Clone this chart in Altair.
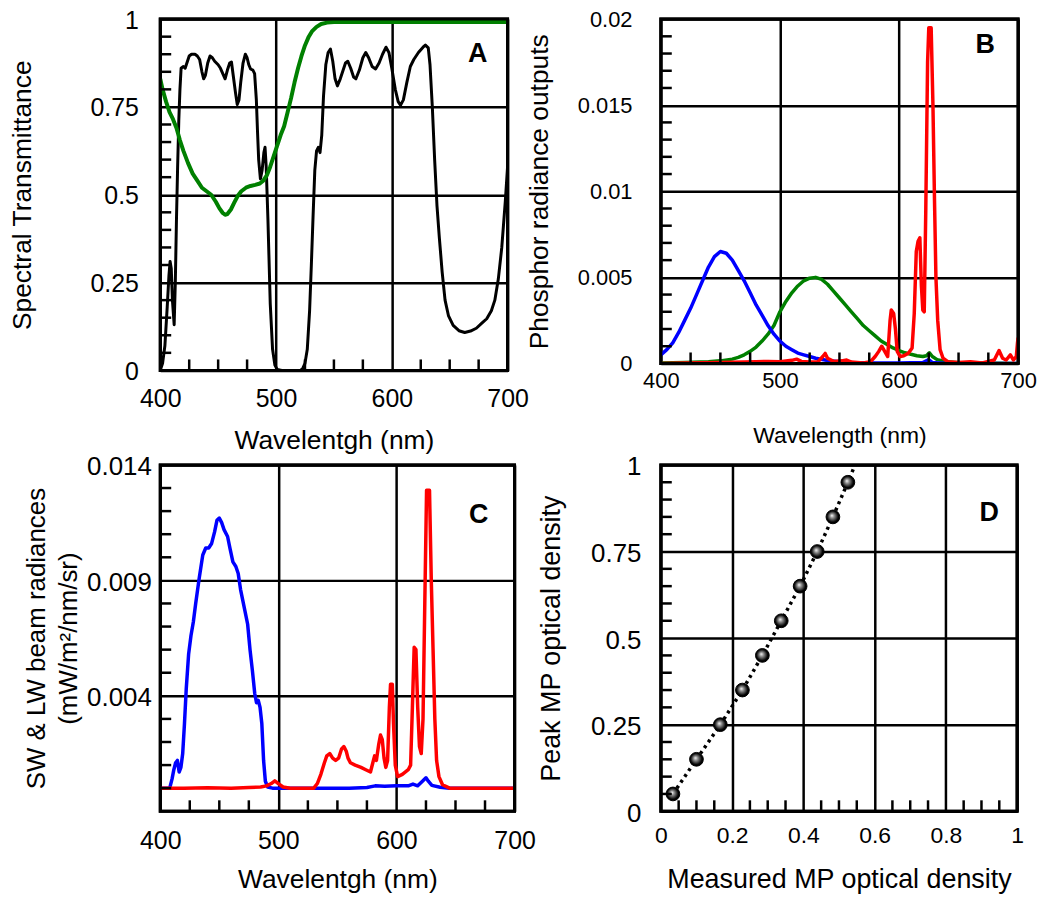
import altair as alt
import pandas as pd

FONT = "Liberation Sans, Arial, Helvetica, sans-serif"

# ---------------- Panel A : spectral transmittance ----------------
a_black_wl = [400, 402, 404, 406, 407.5, 408.5, 409.5, 410.5, 412, 413, 414, 415, 416, 417, 418, 420,
              421.5, 423, 425, 427, 430, 432, 434, 436, 437.5, 439, 441, 443, 445, 447, 450, 452, 454,
              456, 458, 460, 461.5, 463, 465, 466.5, 468, 469.5, 471.5, 473.5, 475, 476.5, 478, 480,
              481.5, 483, 484, 485, 486.5, 488, 489.5, 490.5, 491.5, 493, 495, 497, 499, 501, 505, 515,
              521, 523, 525, 527, 529, 530.5, 532, 533.5, 535, 536.5, 538, 539.5, 541, 543, 545, 547,
              549, 551, 553, 555.5, 558, 560, 562, 564.5, 567, 569, 572, 575, 577.5, 580, 583, 586, 589,
              592, 595, 597.5, 600, 603, 605.5, 607.5, 610, 613, 616, 619, 623, 627, 629, 631.5, 633,
              635, 637, 639, 641, 643.5, 646, 649, 653, 658, 663, 668, 673, 678, 682, 686, 689, 692,
              695, 698, 700]
a_black_t = [0.0, 0.02, 0.07, 0.18, 0.27, 0.31, 0.29, 0.2, 0.13, 0.25, 0.43, 0.58, 0.71, 0.8, 0.86, 0.865,
             0.86, 0.875, 0.895, 0.9, 0.9, 0.895, 0.885, 0.85, 0.83, 0.84, 0.875, 0.895, 0.89, 0.88, 0.87,
             0.86, 0.845, 0.83, 0.855, 0.875, 0.878, 0.84, 0.79, 0.757, 0.77, 0.82, 0.875, 0.9, 0.89,
             0.87, 0.858, 0.855, 0.845, 0.77, 0.68, 0.6, 0.545, 0.57, 0.62, 0.635, 0.58, 0.43, 0.19,
             0.06, 0.015, 0.003, 0.0, 0.0, 0.0, 0.005, 0.02, 0.06, 0.17, 0.3, 0.44, 0.57, 0.625, 0.635,
             0.62, 0.67, 0.78, 0.87, 0.905, 0.915, 0.88, 0.83, 0.81, 0.83, 0.855, 0.875, 0.88, 0.86,
             0.835, 0.83, 0.855, 0.89, 0.905, 0.89, 0.865, 0.858, 0.875, 0.9, 0.92, 0.905, 0.86, 0.8,
             0.765, 0.755, 0.77, 0.82, 0.865, 0.885, 0.905, 0.92, 0.926, 0.918, 0.87, 0.75, 0.6, 0.47,
             0.38, 0.28, 0.2, 0.155, 0.128, 0.113, 0.108, 0.112, 0.12, 0.135, 0.147, 0.17, 0.2, 0.26,
             0.35, 0.48, 0.58]
a_green_wl = [400, 402, 405, 408, 411, 414, 417, 420, 424, 428, 432, 436, 440, 444, 448, 451, 454, 456,
              458, 461, 464, 467, 470, 474, 478, 482, 486, 489, 492, 495, 498, 501, 504, 507, 510, 513,
              516, 519, 522, 525, 528, 531, 535, 539, 544, 550, 700]
a_green_t = [0.83, 0.8, 0.765, 0.735, 0.715, 0.69, 0.655, 0.625, 0.59, 0.56, 0.54, 0.52, 0.51, 0.5,
             0.48, 0.462, 0.448, 0.443, 0.445, 0.458, 0.478, 0.497, 0.51, 0.52, 0.525, 0.528, 0.532,
             0.54, 0.555, 0.58, 0.61, 0.64, 0.67, 0.695, 0.735, 0.775, 0.82, 0.86, 0.895, 0.925, 0.948,
             0.965, 0.978, 0.986, 0.99, 0.992, 0.992]
a_x_labels = [400, 500, 600, 700]
a_y_labels = [0, 0.25, 0.5, 0.75, 1]
a_x_minor = [425, 450, 475, 525, 550, 575, 625, 650, 675]
a_y_minor = [0.05, 0.1, 0.15, 0.2, 0.3, 0.35, 0.4, 0.45, 0.55, 0.6, 0.65, 0.7, 0.8, 0.85, 0.9, 0.95]

# ---------------- Panel B : phosphor radiance ----------------
b_blue_wl = [400, 405, 410, 415, 420, 425, 430, 435, 440, 445, 450, 455, 460, 465, 470, 475, 480, 485,
             490, 495, 500, 505, 510, 515, 520, 525, 530, 540, 550, 560, 580, 600, 620, 625, 628, 640, 700]
b_blue_v = [0.0005, 0.0008, 0.0012, 0.0018, 0.0025, 0.0032, 0.004, 0.0048, 0.0056, 0.0062, 0.0065,
            0.0064, 0.006, 0.0054, 0.0048, 0.0041, 0.0034, 0.0028, 0.0022, 0.0017, 0.0013, 0.001,
            0.0008, 0.0006, 0.0005, 0.0004, 0.0003, 0.00017, 0.0001, 0.00006, 0.00003, 0.00002,
            0.00005, 0.00022, 0.00005, 0.0, 0.0]
b_green_wl = [400, 420, 440, 450, 460, 465, 470, 475, 480, 485, 490, 495, 500, 505, 510, 515, 520, 525,
              530, 535, 540, 545, 550, 555, 560, 565, 570, 575, 580, 585, 590, 595, 600, 605, 610, 615,
              620, 623, 625.5, 628, 632, 640, 650, 700]
b_green_v = [0.00002, 0.00005, 0.0001, 0.00015, 0.00025, 0.00035, 0.0005, 0.0007, 0.00095, 0.0013,
             0.0017, 0.0022, 0.003, 0.0036, 0.0041, 0.0045, 0.0048, 0.00495, 0.005, 0.00488, 0.0046,
             0.0042, 0.0038, 0.0034, 0.003, 0.0026, 0.0022, 0.0019, 0.0016, 0.0013, 0.0011, 0.0009,
             0.00075, 0.00062, 0.00053, 0.00045, 0.0004, 0.00045, 0.00062, 0.0004, 0.00022, 0.0001,
             0.00004, 0.0]
b_red_wl = [400, 420, 450, 480, 490, 500, 510, 514, 518, 525, 532, 536, 538, 540, 545, 552, 556, 560,
            570, 576, 580, 583, 585.5, 588, 590.5, 592.5, 593.5, 595.5, 597, 598.5, 601, 604, 608, 611,
            612.8, 614.5, 616, 617.5, 618.8, 620, 621.2, 622.5, 624, 625, 627, 628.5, 629.8, 631,
            632.5, 634.5, 637, 641, 650, 660, 670, 680, 684, 687, 690, 693.5, 696, 698.5, 699.5, 700]
b_red_v = [0.0, 0.00003, 0.00005, 0.0001, 0.00012, 0.0001, 0.00018, 0.00025, 0.00012, 0.00008, 0.0001,
           0.0004, 0.00058, 0.0003, 0.00012, 0.00015, 0.0002, 0.00008, 0.00003, 0.0001, 0.0004, 0.0007,
           0.001, 0.0007, 0.0004, 0.0025, 0.0031, 0.0029, 0.002, 0.0007, 0.0004, 0.00045, 0.0006,
           0.0009, 0.0029, 0.0065, 0.0071, 0.0073, 0.0045, 0.0031, 0.003, 0.009, 0.0175, 0.0195,
           0.0195, 0.015, 0.0095, 0.005, 0.0025, 0.0008, 0.0003, 0.0001, 0.00005, 0.0001, 0.00003,
           0.0002, 0.00075, 0.0003, 0.0002, 0.0005, 0.0002, 0.0004, 0.0012, 0.0015]
b_x_labels = [400, 500, 600, 700]
b_y_labels = [0, 0.005, 0.01, 0.015, 0.02]
b_x_minor = [425, 450, 475, 525, 550, 575, 625, 650, 675]
b_y_minor = [0.001, 0.002, 0.003, 0.004, 0.006, 0.007, 0.008, 0.009, 0.011, 0.012, 0.013, 0.014,
             0.016, 0.017, 0.018, 0.019]

# ---------------- Panel C : SW & LW beam radiances ----------------
c_blue_wl = [400, 408, 410, 411.5, 413, 414.5, 416, 417.5, 419, 420.5, 422, 424, 426, 428, 430, 433,
             436, 438.5, 441, 443.5, 446, 448, 450, 452, 454, 457, 459, 461.5, 464, 466, 468, 470, 472,
             474, 476, 478, 480, 481.5, 483, 484.5, 486, 487.5, 489, 491, 495, 560, 575, 582, 590, 600,
             610, 614, 618, 622, 625, 627, 630, 637, 645, 700]
c_blue_v = [0.0, 0.0, 0.0004, 0.0008, 0.0011, 0.0012, 0.0007, 0.0009, 0.0015, 0.0028, 0.0043, 0.0058,
            0.0066, 0.0072, 0.008, 0.0091, 0.0101, 0.0104, 0.0104, 0.0106, 0.0111, 0.0116, 0.0117,
            0.0115, 0.0112, 0.0109, 0.0104, 0.0098, 0.0096, 0.0093, 0.0086, 0.0081, 0.0076, 0.0071,
            0.006, 0.0051, 0.0041, 0.0037, 0.0038, 0.0035, 0.0028, 0.0012, 0.0003, 0.00005, 0.0, 0.0,
            0.00003, 0.0001, 0.00008, 0.0001, 0.0001, 0.00018, 0.0001, 0.0003, 0.00045, 0.0003,
            0.00012, 0.00004, 0.0, 0.0]
c_red_wl = [400, 420, 440, 460, 475, 485, 490, 494, 497, 500, 504, 510, 530, 533, 536, 539, 541, 543.5,
            546, 548.5, 551, 553.5, 555.5, 557.5, 559, 561, 565, 570, 574, 578, 580, 581.5, 583, 585,
            586.5, 588, 589.5, 591, 592.5, 594, 595, 596.5, 597.5, 599, 601, 605, 610, 612, 613.5, 615,
            616.5, 618, 619.5, 621, 622.5, 624, 625.5, 628, 629.5, 631, 632.5, 634, 636, 639, 645, 700]
c_red_v = [0.0, 0.0, 0.00002, 0.0, 0.00003, 0.00005, 0.0001, 0.0002, 0.00032, 0.0002, 0.00005, 0.0,
           0.0, 0.0002, 0.0006, 0.0011, 0.0014, 0.0015, 0.0013, 0.0012, 0.0013, 0.0017, 0.0018, 0.0016,
           0.0013, 0.0011, 0.001, 0.0009, 0.0008, 0.0007, 0.0011, 0.0014, 0.0012, 0.0019, 0.0023,
           0.0021, 0.0013, 0.0009, 0.0012, 0.0035, 0.0045, 0.0045, 0.0028, 0.001, 0.0005, 0.0006,
           0.0008, 0.001, 0.0035, 0.0061, 0.006, 0.0035, 0.0018, 0.0015, 0.003, 0.008, 0.0129, 0.0129,
           0.009, 0.006, 0.003, 0.0012, 0.0005, 0.00015, 0.0, 0.0]
c_x_labels = [400, 500, 600, 700]
c_y_labels = [0.004, 0.009, 0.014]
c_x_minor = [425, 450, 475, 525, 550, 575, 625, 650, 675]
c_y_minor = [0.0, 0.001, 0.002, 0.003, 0.005, 0.006, 0.007, 0.008, 0.01, 0.011, 0.012, 0.013]

# ---------------- Panel D : optical density ----------------
d_measured = [0.034, 0.100, 0.167, 0.229, 0.285, 0.338, 0.391, 0.439, 0.483, 0.525]
d_peak = [0.05, 0.15, 0.25, 0.35, 0.45, 0.55, 0.65, 0.75, 0.85, 0.95]
d_fit_x = [0.034, 0.100, 0.167, 0.229, 0.285, 0.338, 0.391, 0.439, 0.483, 0.525, 0.545]
d_fit_y = [0.05, 0.15, 0.25, 0.35, 0.45, 0.55, 0.65, 0.75, 0.85, 0.95, 1.0]
d_x_labels = [0, 0.2, 0.4, 0.6, 0.8, 1]
d_y_labels = [0, 0.25, 0.5, 0.75, 1]
d_x_minor = [0.05, 0.1, 0.15, 0.25, 0.3, 0.35, 0.45, 0.5, 0.55, 0.65, 0.7, 0.75, 0.85, 0.9, 0.95]
d_y_minor = [0.05, 0.1, 0.15, 0.2, 0.3, 0.35, 0.4, 0.45, 0.55, 0.6, 0.65, 0.7, 0.8, 0.85, 0.9, 0.95]

TICK_PX = 11  # length of the inward minor ticks, pixels


def df(xs, ys):
    return pd.DataFrame({"x": xs, "y": ys})


def axis(values, fmt, lsize, lpad, title, tsize, **kw):
    return alt.Axis(values=values, format=fmt, grid=True, gridColor="black", gridWidth=2.5,
                    gridOpacity=1, ticks=False, tickSize=0, domain=False, labelFlush=False,
                    labelFont=FONT, labelFontSize=lsize, labelColor="black", labelPadding=lpad,
                    labelOverlap=False, title=title, titleFont=FONT, titleFontSize=tsize,
                    titleFontWeight="normal", titleColor="black",
                    titleBaseline="alphabetic", **kw)


def yaxis(values, fmt, lsize, lpad, title, tsize, **kw):
    # labels hang from a point just above each tick so that they sit centred on it
    return axis(values, fmt, lsize, lpad, title, tsize, labelBaseline="top",
                labelOffset=-round(lsize * 0.44), **kw)


def panel(w, h, xdom, ydom, xaxis, yaxis_, xminor, yminor, series, letter, lx, ly, extra=None):
    xs = alt.Scale(domain=xdom, nice=False, zero=False)
    ys = alt.Scale(domain=ydom, nice=False, zero=False)
    X = alt.X("x:Q", scale=xs, axis=xaxis)
    Y = alt.Y("y:Q", scale=ys, axis=yaxis_)
    layers = []
    for xv, yv, color, sw in series:
        layers.append(alt.Chart(df(xv, yv)).mark_line(color=color, strokeWidth=sw,
                                                      strokeJoin="round", clip=True)
                      .encode(x=X, y=Y))
    if extra is not None:
        layers.extend(extra(X, Y))

    # inward minor ticks, as rules whose both ends are data values
    dy = (ydom[1] - ydom[0]) * TICK_PX / h
    dx = (xdom[1] - xdom[0]) * TICK_PX / w
    xt = pd.DataFrame({"x": xminor, "y": [ydom[0]] * len(xminor),
                       "y2": [ydom[0] + dy] * len(xminor)})
    yt = pd.DataFrame({"y": yminor, "x": [xdom[0]] * len(yminor),
                       "x2": [xdom[0] + dx] * len(yminor)})
    layers.append(alt.Chart(xt).mark_rule(color="black", strokeWidth=2.5)
                  .encode(x=X, y=Y, y2="y2:Q"))
    layers.append(alt.Chart(yt).mark_rule(color="black", strokeWidth=2.5)
                  .encode(y=Y, x=X, x2="x2:Q"))

    # heavy frame round the plot area, as an unfilled rectangle spanning the domains
    fr = pd.DataFrame({"x": [xdom[0]], "x2": [xdom[1]], "y": [ydom[0]], "y2": [ydom[1]]})
    layers.append(alt.Chart(fr).mark_rect(fill=None, stroke="black", strokeWidth=3)
                  .encode(x=X, x2="x2:Q", y=Y, y2="y2:Q"))

    layers.append(alt.Chart(pd.DataFrame({"t": [letter]}))
                  .mark_text(font=FONT, fontSize=27, fontWeight="bold", color="black",
                             align="center", baseline="middle")
                  .encode(text="t:N", x=alt.value(lx), y=alt.value(ly)))
    return alt.layer(*layers).properties(width=w, height=h)


# Panel A
A = panel(
    349, 353, [400, 700], [0, 1],
    axis(a_x_labels, "d", 25, 16, "Wavelentgh (nm)", 26.5, titleY=78),
    yaxis(a_y_labels, ".2~f", 25, 22, "Spectral Transmittance", 26.5, titleX=-130),
    a_x_minor, a_y_minor,
    [(a_black_wl, a_black_t, "black", 3), (a_green_wl, a_green_t, "#008000", 4)],
    "A", 319, 35)

# Panel B
B = panel(
    359, 346, [400, 700], [0, 0.02],
    axis(b_x_labels, "d", 22, 7, "Wavelength (nm)", 23, titleY=79),
    yaxis(b_y_labels, ".3~f", 22, 29, "Phosphor radiance outputs", 26.5, titleX=-114),
    b_x_minor, b_y_minor,
    [(b_green_wl, b_green_v, "#008000", 3.5), (b_blue_wl, b_blue_v, "#0000ff", 3.5),
     (b_red_wl, b_red_v, "#ff0000", 3.5)],
    "B", 326, 26)

# Panel C
C = panel(
    356, 348, [400, 700], [-0.001, 0.014],
    axis(c_x_labels, "d", 25, 17, "Wavelentgh (nm)", 26.5, titleY=77),
    yaxis(c_y_labels, ".3~f", 26, 9, ["SW & LW beam radiances", "(mW/m²/nm/sr)"], 26,
          titleX=-116, titleLineHeight=32),
    c_x_minor, c_y_minor,
    [(c_blue_wl, c_blue_v, "#0000ff", 3.5), (c_red_wl, c_red_v, "#ff0000", 3.5)],
    "C", 320, 50)


def d_extra(X, Y):
    grad = alt.RadialGradient(
        gradient="radial",
        stops=[alt.GradientStop(color="#ffffff", offset=0.0),
               alt.GradientStop(color="#9a9a9a", offset=0.25),
               alt.GradientStop(color="#000000", offset=0.75)],
        x1=0.42, y1=0.4, r1=0.0, x2=0.5, y2=0.5, r2=0.55)
    line = (alt.Chart(df(d_fit_x, d_fit_y))
            .mark_line(color="black", strokeWidth=3.5, strokeDash=[3, 4], clip=True)
            .encode(x=X, y=Y))
    pts = (alt.Chart(df(d_measured, d_peak))
           .mark_point(shape="circle", filled=True, fill=grad, stroke="black", strokeWidth=1,
                       size=190, opacity=1)
           .encode(x=X, y=Y))
    return [line, pts]


D = panel(
    358, 348, [0, 1], [0, 1],
    axis(d_x_labels, ".1~f", 23, 13, "Measured MP optical density", 27, titleY=77),
    yaxis(d_y_labels, ".2~f", 26, 20, "Peak MP optical density", 27, titleX=-102),
    d_x_minor, d_y_minor,
    [],
    "D", 330, 48, extra=d_extra)

chart = (alt.concat(A, B, C, D, columns=2, spacing={"row": 95, "column": 144},
                    bounds="flush", align="all")
         .properties(padding={"top": -4, "left": 0, "right": 0, "bottom": 0}, background="white")
         .configure_view(stroke="black", strokeWidth=3))

chart.save("out.html", embed_options={"renderer": "svg", "actions": False})
